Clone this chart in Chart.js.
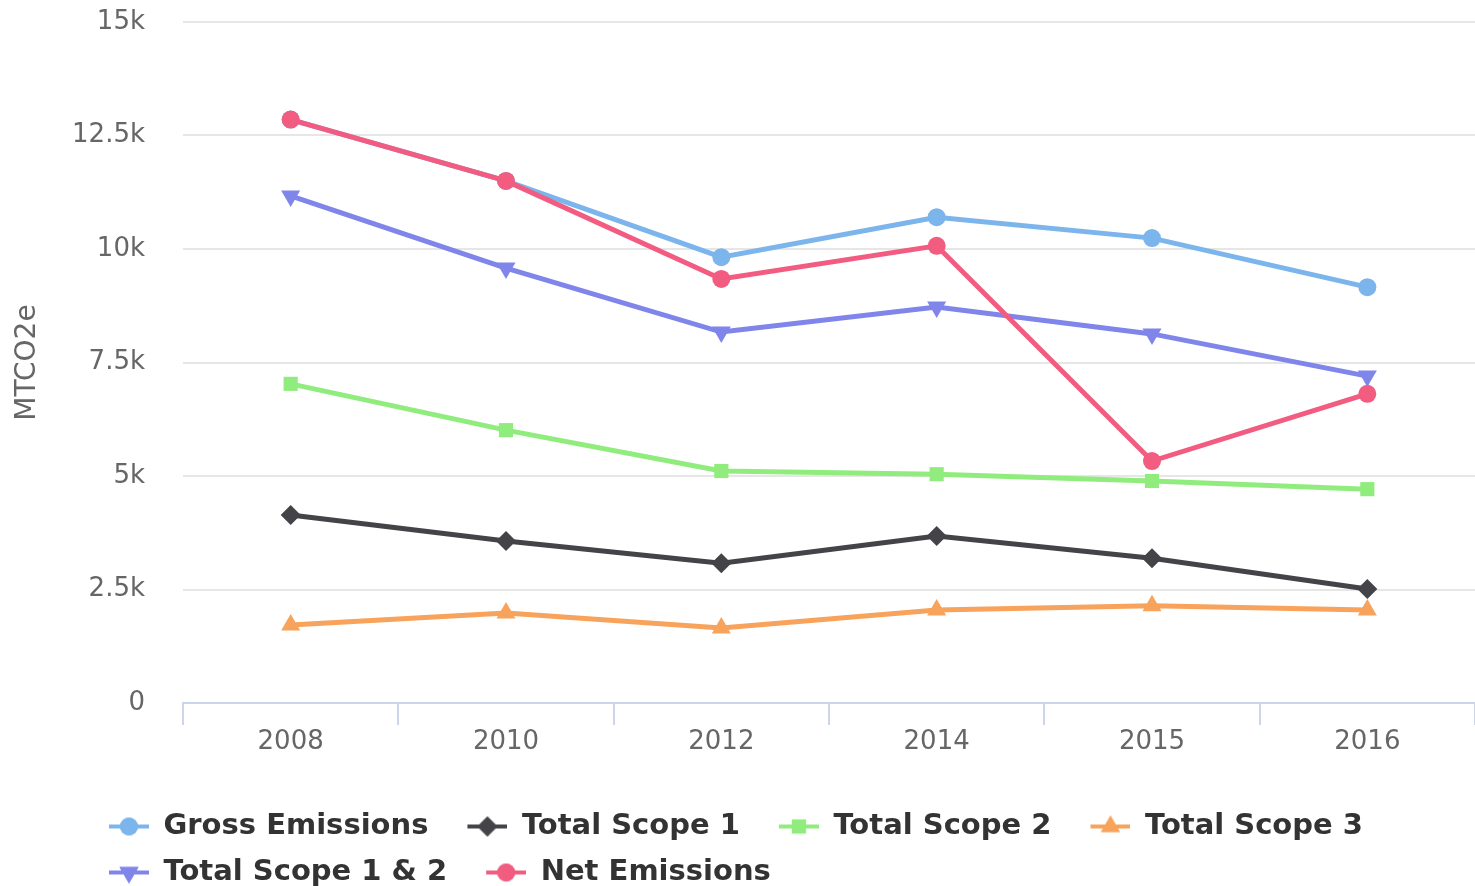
<!DOCTYPE html>
<html>
<head>
<meta charset="utf-8">
<script src="https://cdn.jsdelivr.net/npm/chart.js@4"></script>
<style>
    html, body { margin: 0; padding: 0; background: #fff; overflow: hidden; }
    #wrap { width: 1475px; height: 886px; }
</style>
</head>
<body>
<div id="wrap"><canvas id="chart"></canvas></div>
<script>
// Data
const years = ['2008', '2010', '2012', '2014', '2015', '2016'];
const grossEmissions = [12850, 11500, 9820, 10700, 10240, 9160];
const totalScope1 = [4140, 3570, 3080, 3680, 3190, 2510];
const totalScope2 = [7030, 6010, 5110, 5040, 4890, 4710];
const totalScope3 = [1720, 1980, 1650, 2050, 2140, 2050];
const totalScope12 = [11170, 9580, 8170, 8720, 8130, 7200];
const netEmissions = [12850, 11500, 9340, 10070, 5330, 6810];
const yTicks = [0, 2500, 5000, 7500, 10000, 12500, 15000];

const FONT = "'DejaVu Sans', sans-serif";

// Series setup (label, data, colour, marker)
const series = [
    { label: 'Gross Emissions', data: grossEmissions, color: '#7cb5ec', style: 'circle', rot: 0, r: 9 },
    { label: 'Total Scope 1', data: totalScope1, color: '#434348', style: 'rectRot', rot: 0, r: 10 },
    { label: 'Total Scope 2', data: totalScope2, color: '#90ed7d', style: 'rect', rot: 0, r: 10 },
    { label: 'Total Scope 3', data: totalScope3, color: '#f7a35c', style: 'triangle', rot: 0, r: 11 },
    { label: 'Total Scope 1 & 2', data: totalScope12, color: '#8085e9', style: 'triangle', rot: 180, r: 11 },
    { label: 'Net Emissions', data: netEmissions, color: '#f15c80', style: 'circle', rot: 0, r: 9 }
];

// Legend symbol: a short line with the marker in the middle
function legendSymbol(s) {
    const c = document.createElement('canvas');
    c.width = 62;
    c.height = 24;
    const g = c.getContext('2d');
    g.strokeStyle = s.color;
    g.fillStyle = s.color;
    g.lineWidth = 4;
    g.beginPath();
    g.moveTo(22, 12);
    g.lineTo(62, 12);
    g.stroke();
    Chart.helpers.drawPoint(g, { pointStyle: s.style, rotation: s.rot, radius: s.r, borderWidth: 0 }, 42, 12);
    g.fill();
    return c;
}

const datasets = series.map((s, i) => ({
    label: s.label,
    data: s.data,
    borderColor: s.color,
    backgroundColor: s.color,
    borderWidth: 5,
    pointStyle: s.style,
    pointRotation: s.rot,
    pointRadius: s.r,
    pointHoverRadius: s.r,
    pointBorderWidth: 0,
    tension: 0,
    order: series.length - i
}));

// Nudges the legend to where the original puts it
const legendPlacer = {
    id: 'legendPlacer',
    beforeDraw(chart) {
        chart.legend.left = 70;
        chart.legend.top = 795;
    }
};

const ctx = document.getElementById('chart').getContext('2d');

const chart = new Chart(ctx, {
    type: 'line',
    data: { labels: years, datasets: datasets },
    plugins: [legendPlacer],
    options: {
        animation: false,
        responsive: true,
        maintainAspectRatio: false,
        layout: { padding: 0, autoPadding: false },
        plugins: {
            tooltip: { enabled: false },
            legend: {
                position: 'bottom',
                align: 'start',
                labels: {
                    usePointStyle: true,
                    pointStyleWidth: 62,
                    padding: 17,
                    color: '#333333',
                    font: { family: FONT, size: 29, weight: 'bold' },
                    generateLabels(chart) {
                        return chart.data.datasets.map((d, i) => ({
                            text: d.label,
                            pointStyle: legendSymbol(series[i]),
                            fillStyle: series[i].color,
                            strokeStyle: series[i].color,
                            lineWidth: 0,
                            hidden: !chart.isDatasetVisible(i),
                            datasetIndex: i,
                            fontColor: '#333333'
                        }));
                    }
                }
            }
        },
        scales: {
            x: {
                offset: true,
                grid: {
                    offset: true,
                    drawOnChartArea: false,
                    color: '#ccd6eb',
                    lineWidth: 2,
                    tickLength: 22
                },
                border: { color: '#ccd6eb', width: 2 },
                ticks: {
                    color: '#666666',
                    padding: 2,
                    font: { family: FONT, size: 26 }
                },
                afterFit(scale) {
                    scale.height = 81;
                    scale.paddingLeft = 0;
                    scale.paddingRight = 0;
                }
            },
            y: {
                min: 0,
                max: 15000,
                afterBuildTicks(scale) {
                    scale.ticks = yTicks.map(v => ({ value: v }));
                },
                grid: { color: '#e6e6e6', lineWidth: 2, drawTicks: false },
                border: { display: false },
                ticks: {
                    color: '#666666',
                    padding: 38,
                    font: { family: FONT, size: 26 },
                    callback: (v) => v === 0 ? '0' : (v / 1000) + 'k'
                },
                title: {
                    display: true,
                    text: 'MTCO2e',
                    color: '#666666',
                    font: { family: FONT, size: 28 },
                    padding: { top: 11, bottom: 0 }
                },
                afterFit(scale) {
                    scale.width = 183;
                    scale.paddingTop = 22;
                    scale.paddingBottom = 0;
                }
            }
        }
    }
});
</script>
</body>
</html>
